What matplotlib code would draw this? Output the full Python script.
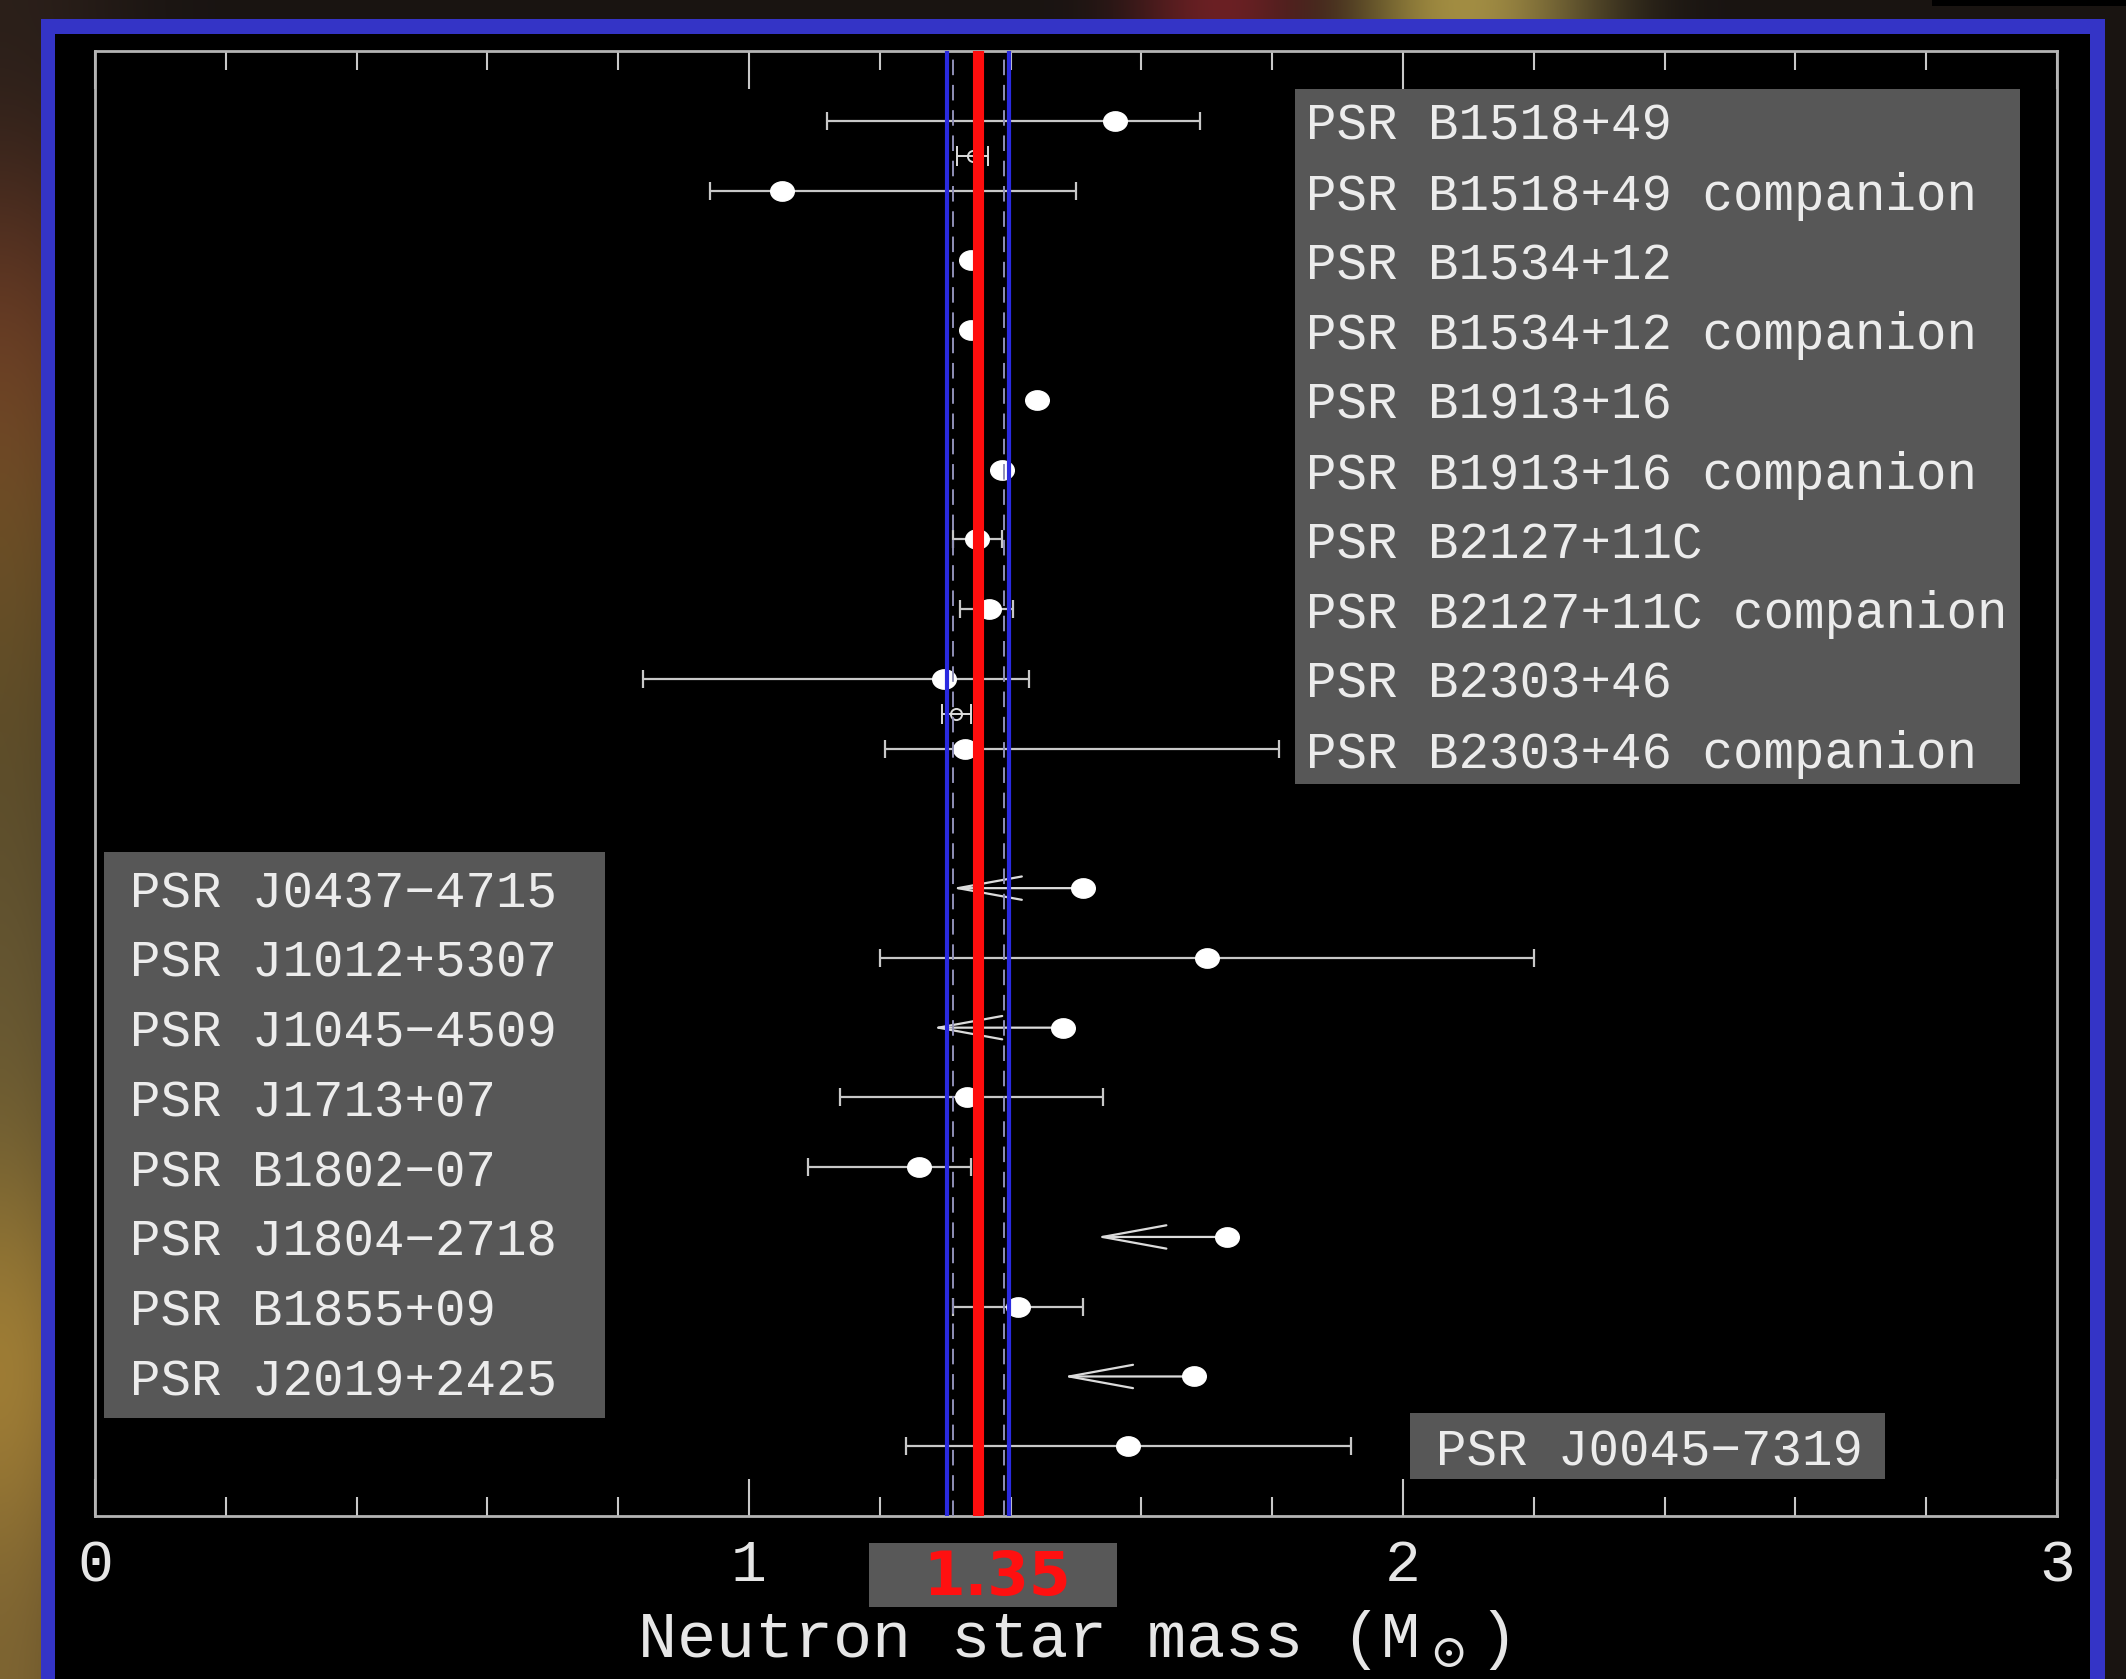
import matplotlib
matplotlib.use('Agg')
import matplotlib.pyplot as plt
import numpy as np
from matplotlib.patches import Rectangle
from matplotlib.path import Path
from matplotlib.transforms import Affine2D

plt.rcParams['mathtext.fontset'] = 'dejavuserif'

# pulsar labels, grouped as in the three boxes
names_top = ['PSR B1518+49', 'PSR B1518+49 companion', 'PSR B1534+12',
             'PSR B1534+12 companion', 'PSR B1913+16', 'PSR B1913+16 companion',
             'PSR B2127+11C', 'PSR B2127+11C companion', 'PSR B2303+46',
             'PSR B2303+46 companion']
rows_top = [0, 1, 2, 3, 4, 5, 6, 7, 8, 9]
names_left = ['PSR J0437\u22124715', 'PSR J1012+5307', 'PSR J1045\u22124509',
              'PSR J1713+07', 'PSR B1802\u221207', 'PSR J1804\u22122718',
              'PSR B1855+09', 'PSR J2019+2425']
rows_left = [11, 12, 13, 14, 15, 16, 17, 18]
names_bottom = ['PSR J0045\u22127319']
rows_bottom = [19]

# masses with asymmetric errors (solar masses)
meas_rows = [0, 1, 2, 3, 4, 5, 6, 7, 8, 9, 12, 14, 15, 17, 19]
meas_mass = [1.56, 1.05, 1.339, 1.339, 1.441, 1.387, 1.348, 1.367, 1.298, 1.331,
             1.70, 1.334, 1.26, 1.412, 1.58]
meas_lo = [0.44, 0.11, 0.0, 0.0, 0.0, 0.0, 0.036, 0.045, 0.46, 0.123,
           0.50, 0.195, 0.17, 0.10, 0.34]
meas_hi = [0.13, 0.45, 0.0, 0.0, 0.0, 0.0, 0.039, 0.037, 0.13, 0.48,
           0.50, 0.207, 0.08, 0.098, 0.34]

# upper limits (arrows)
lim_rows = [11, 13, 16, 18]
lim_mass = [1.51, 1.48, 1.731, 1.68]
lim_len = 0.2

# small averaged points between the pairs
avg_rows = [0.5, 8.5]
avg_mass = [1.342, 1.317]
avg_err = [0.024, 0.022]

mean_mass = 1.35
band_solid = [1.303, 1.397]
band_dash = [1.312, 1.390]

W, H = 2126, 1679
fig = plt.figure(figsize=(W / 100, H / 100), dpi=100)
fig.patch.set_facecolor('#16120e')

# blurred photo behind the slide frame
bgax = fig.add_axes([0, 0, 1, 1])
bgax.set_xlim(0, W)
bgax.set_ylim(H, 0)
bgax.axis('off')
bg = np.zeros((8, 20, 3)) + np.array([0.10, 0.08, 0.07])
bg[:, 0] = [[0.16, 0.12, 0.10], [0.45, 0.24, 0.15], [0.45, 0.33, 0.15],
            [0.36, 0.30, 0.16], [0.40, 0.34, 0.20], [0.45, 0.38, 0.20],
            [0.72, 0.56, 0.22], [0.50, 0.40, 0.20]]
bg[0, 11] = [0.60, 0.15, 0.18]
bg[0, 13] = [0.78, 0.68, 0.30]
bg[0, 14] = [0.55, 0.48, 0.25]
bgax.imshow(np.clip(bg, 0, 1), extent=(0, W, H, 0), aspect='auto',
            interpolation='bicubic')
bgax.add_patch(Rectangle((41, 19), 2064, 1700, facecolor='#3434c6', lw=0))
bgax.add_patch(Rectangle((55, 34), 2035, 1700, facecolor='black', lw=0))
bgax.add_patch(Rectangle((1932, 0), 194, 6, facecolor='black', lw=0))

# highlighted mean value under the axis
bgax.add_patch(Rectangle((869, 1543), 248, 64, facecolor='#585858', lw=0))
bgax.text(997, 1595, '1.35', color='#ff1010', fontsize=43, fontweight='bold',
          family='DejaVu Sans', ha='center', va='baseline')

ax = fig.add_axes([95 / W, 1 - 1516 / H, 1962 / W, 1465 / H])
ax.set_facecolor('black')
ax.set_xlim(0, 3)
ax.set_ylim(20, -1)
ax.set_yticks([])
for s in ax.spines.values():
    s.set_color('#b4b4b4')
    s.set_linewidth(2.0)

ax.set_xticks([0, 1, 2, 3])
ax.set_xticks(np.arange(0.2, 3.0, 0.2), minor=True)
ax.tick_params(axis='x', which='both', direction='in', top=True,
               color='#c8c8c8', width=1.5)
ax.tick_params(axis='x', which='major', length=27, pad=16,
               labelsize=43, labelcolor='#e6e6e6')
ax.tick_params(axis='x', which='minor', length=14)
for lab in ax.get_xticklabels():
    lab.set_family('Liberation Mono')
ax.set_xlabel(r'Neutron star mass (M$_\odot$)', family='Liberation Mono',
              fontsize=47, color='#e6e6e6', va='baseline')
ax.xaxis.set_label_coords(0.4985, -0.0962)

# label boxes
ax.add_patch(Rectangle((1.835, -0.45), 1.108, 9.96, facecolor='#575757', lw=0, zorder=1))
ax.add_patch(Rectangle((0.014, 10.48), 0.766, 8.12, facecolor='#575757', lw=0, zorder=1))
ax.add_patch(Rectangle((2.011, 18.52), 0.726, 0.95, facecolor='#575757', lw=0, zorder=1))
txt = dict(family='Liberation Mono', fontsize=36.5,
           color='#ececec', va='center_baseline', ha='left', zorder=2)
for n, r in zip(names_top, rows_top):
    ax.text(1.852, r, n, **txt)
for n, r in zip(names_left, rows_left):
    ax.text(0.054, r, n, **txt)
for n, r in zip(names_bottom, rows_bottom):
    ax.text(2.050, r, n, **txt)

# data
ell = Path.unit_circle().transformed(Affine2D().scale(1.0, 0.82))
ax.errorbar(meas_mass, meas_rows, xerr=[meas_lo, meas_hi], fmt='none',
            ecolor='#c8c8c8', elinewidth=1.6, capsize=6.5, capthick=1.6, zorder=3)
ax.plot(meas_mass, meas_rows, ls='none', marker=ell, ms=17,
        mfc='white', mec='white', zorder=4)

for r, m in zip(lim_rows, lim_mass):
    ax.annotate('', xy=(m - lim_len, r), xytext=(m, r),
                arrowprops=dict(arrowstyle='->,head_length=2.3,head_width=0.42',
                                color='#dcdcdc', lw=1.6, shrinkA=0, shrinkB=0,
                                mutation_scale=20), zorder=3)
ax.plot(lim_mass, lim_rows, ls='none', marker=ell, ms=17,
        mfc='white', mec='white', zorder=4)

ax.errorbar(avg_mass, avg_rows, xerr=avg_err, fmt='o', ms=8, mfc='none',
            mec='#dddddd', mew=1.4, ecolor='#dddddd', elinewidth=1.4,
            capsize=7, capthick=1.6, zorder=3)

# mean and its uncertainty band
for x in band_dash:
    ax.axvline(x, color='#9090b8', lw=1.4, dashes=(8, 5), zorder=5)
for x in band_solid:
    ax.axvline(x, color='#2a2ae0', lw=3.0, zorder=5)
ax.axvline(mean_mass, color='#ff0d0d', lw=8, zorder=6)

fig.savefig('out.png', dpi=100, facecolor=fig.get_facecolor())
